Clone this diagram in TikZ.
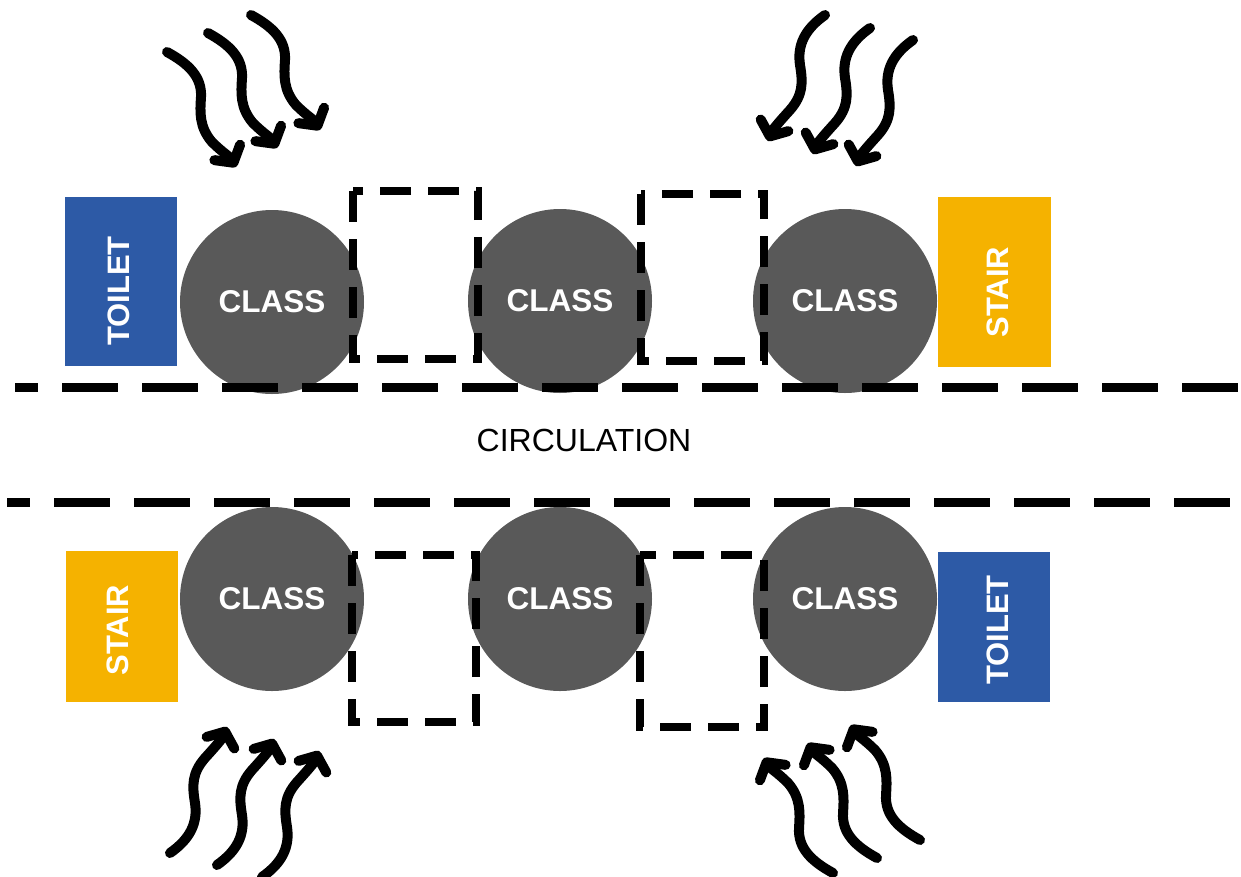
\documentclass[tikz,border=0pt]{standalone}
\usepackage{fontspec}
\setmainfont{Liberation Sans}
\usetikzlibrary{arrows.meta}

\definecolor{toiletblue}{HTML}{2D5AA6}
\definecolor{stairgold}{HTML}{F5B200}
\definecolor{classgray}{HTML}{595959}

\tikzset{
  classroom/.style={circle, fill=classgray, minimum size=184pt, inner sep=0pt,
    text=white, font=\fontsize{31.5}{31.5}\selectfont\bfseries},
  toiletbox/.style={rectangle, fill=toiletblue, inner sep=0pt},
  stairbox/.style={rectangle, fill=stairgold, inner sep=0pt},
  roomlabel/.style={rotate=90, text=white, inner sep=0pt,
    font=\fontsize{31}{31}\selectfont\bfseries},
  spacebox/.style={draw=black, line width=8pt, dash pattern=on 31pt off 17pt},
  corridor/.style={draw=black, line width=9pt, dash pattern=on 56pt off 24pt, dash phase=33pt},
  wind/.style={draw=black, line width=10pt, line cap=round, line join=round,
    -{Straight Barb[length=12pt, width=30pt, line cap=round, line join=round]}},
  % wavy arrow drifting down and to the right
  pics/windright/.style={code={
    \draw[wind] (0,0) .. controls (22,12) and (35,25) .. (34,45)
      .. controls (33,60) and (32,75) .. (45,90)
      .. controls (55,100) and (63,105) .. (69,115);
  }},
  % wavy arrow drifting down and to the left
  pics/windleft/.style={code={
    \draw[wind] (0,0) .. controls (-20,14) and (-28,30) .. (-25,50)
      .. controls (-22,68) and (-22,80) .. (-35,95)
      .. controls (-45,106) and (-52,114) .. (-57,126);
  }},
}

\begin{document}
\begin{tikzpicture}[x=1pt, y=-1pt]
\useasboundingbox (0,0) rectangle (1241,876);

% ---------- upper wing ----------
\node[toiletbox, minimum width=112pt, minimum height=169pt] (tToilet) at (121,281) {};
\node[roomlabel] (tToiletTxt) at (119,291) {TOILET};
\node[stairbox, minimum width=113pt, minimum height=170pt] (tStair) at (994,282) {};
\node[roomlabel] (tStairTxt) at (998,292) {STAIR};

\node[classroom] (tC1) at (272,302) {CLASS};
\node[classroom] (tC2) at (560,301) {CLASS};
\node[classroom] (tC3) at (845,301) {CLASS};

\draw[spacebox] (353,191) rectangle (478,359);
\draw[spacebox] (641,194) rectangle (764,361);

% ---------- lower wing ----------
\node[stairbox, minimum width=112pt, minimum height=151pt] (bStair) at (122,626) {};
\node[roomlabel] (bStairTxt) at (118,630) {STAIR};
\node[toiletbox, minimum width=112pt, minimum height=150pt] (bToilet) at (994,627) {};
\node[roomlabel] (bToiletTxt) at (998,630) {TOILET};

\node[classroom] (bC1) at (272,599) {CLASS};
\node[classroom] (bC2) at (560,599) {CLASS};
\node[classroom] (bC3) at (845,599) {CLASS};

\draw[spacebox] (352,555) rectangle (476,722);
\draw[spacebox] (640,555) rectangle (764,727);

% ---------- corridor ----------
\draw[corridor] (15,387) -- (1241,387);
\draw[corridor] (7,502) -- (1241,502);
\node[font=\fontsize{32}{32}\selectfont, inner sep=0pt] (circ) at (584,440) {CIRCULATION};

% ---------- wind arrows ----------
\pic at (167,52) {windright};
\pic at (208,33) {windright};
\pic at (251,15) {windright};

\pic at (825,15) {windleft};
\pic at (870,28) {windleft};
\pic at (913,40) {windleft};

\pic[rotate=180] at (170,853) {windleft};
\pic[rotate=180] at (217,865) {windleft};
\pic[rotate=180] at (262,877) {windleft};

\pic[rotate=180] at (833,873) {windright};
\pic[rotate=180] at (877,858) {windright};
\pic[rotate=180] at (920,840) {windright};
\end{tikzpicture}
\end{document}
